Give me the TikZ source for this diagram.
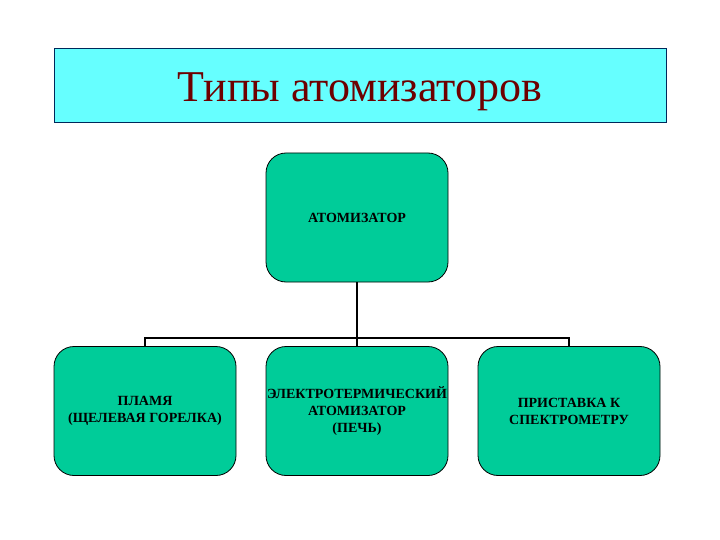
\documentclass[tikz,border=0pt]{standalone}
\usepackage{fontspec}
\setmainfont{Liberation Serif}[BoldFont={Liberation Serif Bold}]
\usetikzlibrary{positioning}

\definecolor{titlefill}{RGB}{102,255,255}
\definecolor{titleedge}{RGB}{0,40,90}
\definecolor{titletext}{RGB}{110,0,0}
\definecolor{boxfill}{RGB}{0,204,153}

\tikzset{
  titlebox/.style={draw=titleedge, fill=titlefill, line width=0.8pt,
    minimum width=612pt, minimum height=74pt, inner sep=0pt,
    text height=34pt, text depth=0pt,
    text=titletext, font=\fontsize{44}{48}\selectfont},
  atombox/.style={draw=black, fill=boxfill, line width=0.8pt,
    rounded corners=20pt, minimum width=182pt, minimum height=129pt,
    inner sep=0pt, align=center, font=\fontsize{14}{17}\selectfont\bfseries},
  link/.style={draw=black, line width=2pt}
}

\begin{document}
\begin{tikzpicture}[x=1pt, y=-1pt]
	\useasboundingbox (0,0) rectangle (720,540);
	\node[titlebox] (title) at (360,85) {Типы атомизаторов};
	\node[atombox] (atom) at (357,217.5) {АТОМИЗАТОР};
	\node[atombox] (flame) at (145,411) {ПЛАМЯ\\(ЩЕЛЕВАЯ ГОРЕЛКА)};
	\node[atombox] (furnace) at (357,411) {ЭЛЕКТРОТЕРМИЧЕСКИЙ\\АТОМИЗАТОР\\(ПЕЧЬ)};
	\node[atombox] (adapter) at (569,411) {ПРИСТАВКА К\\СПЕКТРОМЕТРУ};
	\coordinate (fork) at (357,338);
	% tree lines
	\draw[link] (atom.south) -- (fork);
	\draw[link] (fork) -- (furnace.north);
	\draw[link] (flame.north) |- (fork) -| (adapter.north);
\end{tikzpicture}
\end{document}
